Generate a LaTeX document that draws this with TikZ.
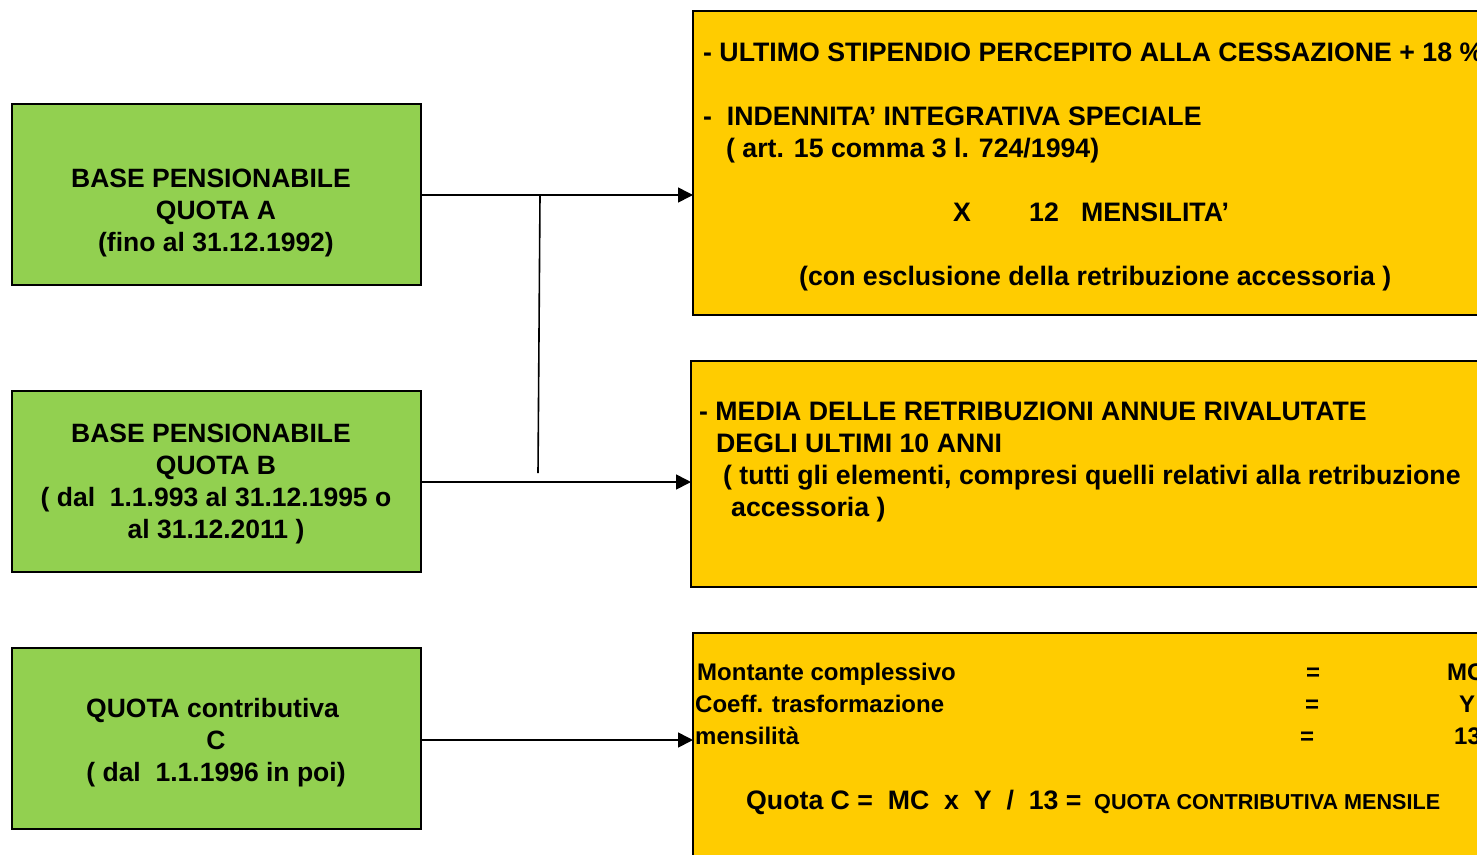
\documentclass[tikz,border=0pt]{standalone}
\usepackage{fontspec}
\setmainfont{Liberation Sans}
\usetikzlibrary{arrows.meta}
\definecolor{boxgreen}{HTML}{92D050}
\definecolor{boxorange}{HTML}{FFCC00}
\tikzset{
  greenbox/.style={draw=black, line width=1.6pt, fill=boxgreen},
  orangebox/.style={draw=black, line width=1.6pt, fill=boxorange},
  gtext/.style={align=center, font=\fontsize{26.5}{32}\selectfont\bfseries, inner sep=0pt},
  ltext/.style={anchor=base west, font=\fontsize{26.7}{32}\selectfont\bfseries, inner sep=0pt},
  mtext/.style={anchor=base west, font=\fontsize{24}{32}\selectfont\bfseries, inner sep=0pt},
  conn/.style={draw=black, line width=1.6pt},
  arr/.style={conn, -{Triangle[length=15pt,width=15pt]}},
}
\begin{document}
\begin{tikzpicture}[x=1pt,y=-1pt]
\useasboundingbox (0,0) rectangle (1477,854);
\clip (0,0) rectangle (1477,854);
% green boxes
\draw[greenbox] (12,104) rectangle (421,285);
\node[gtext] (A) at (216,213) {BASE PENSIONABILE\hspace*{10pt}\\QUOTA A\\(fino al 31.12.1992)};
\coordinate (Ae) at (421,195);
\draw[greenbox] (12,391) rectangle (421,572);
\node[gtext] (B) at (216,484) {BASE PENSIONABILE\hspace*{10pt}\\QUOTA B\\( dal\ \ 1.1.993 al 31.12.1995 o\\al 31.12.2011 )};
\coordinate (Be) at (421,482);
\draw[greenbox] (12,648) rectangle (421,829);
\node[gtext] (C) at (216,743) {QUOTA contributiva\hspace*{7pt}\\C\\( dal\ \ 1.1.1996 in poi)};
\coordinate (Ce) at (421,740);
% orange boxes
\draw[orangebox] (693,11) rectangle (1500,315);
\coordinate (O1) at (693,195);
\draw[orangebox] (691,361) rectangle (1500,587);
\coordinate (O2) at (691,482);
\draw[orangebox] (693,633) rectangle (1500,880);
\coordinate (O3) at (693,740);
% box 1 text
\node[ltext] (t11) at (703,61) {- ULTIMO STIPENDIO PERCEPITO ALLA CESSAZIONE + 18 \%};
\node[ltext] (t12) at (703,125) {-\ \ INDENNITA’ INTEGRATIVA SPECIALE};
\node[ltext] (t13) at (726,157) {( art. 15 comma 3 l. 724/1994)};
\node[ltext] (t14) at (953,221) {X};
\node[ltext] (t15) at (1029,221) {12\ \ \ MENSILITA’};
\node[ltext] (t16) at (799,285) {(con esclusione della retribuzione accessoria )};
% box 2 text
\node[ltext] (t21) at (699,420) {- MEDIA DELLE RETRIBUZIONI ANNUE RIVALUTATE};
\node[ltext] (t22) at (716,452) {DEGLI ULTIMI 10 ANNI};
\node[ltext] (t23) at (723,484) {( tutti gli elementi, compresi quelli relativi alla retribuzione};
\node[ltext] (t24) at (731,516) {accessoria )};
% box 3 text
\node[mtext] (t31) at (697,680) {Montante complessivo};
\node[mtext] (t32) at (695,712) {Coeff. trasformazione};
\node[mtext] (t33) at (695,744) {mensilità};
\node[mtext] (e1) at (1306,680) {=};
\node[mtext] (e2) at (1305,712) {=};
\node[mtext] (e3) at (1300,744) {=};
\node[mtext] (v1) at (1447,680) {MC};
\node[mtext] (v2) at (1459,712) {Y};
\node[mtext] (v3) at (1454,744) {13};
\node[ltext] (q1) at (746,809) {Quota C =\ \ MC\ \ x\ \ Y\ \ /\ \ 13 =};
\node[anchor=base west, font=\fontsize{21.6}{26}\selectfont\bfseries, inner sep=0pt] (q2) at (1094,809) {QUOTA CONTRIBUTIVA MENSILE};
% connectors
\draw[arr] (Ae) -- (O1);
\draw[arr] (Be) -- (O2);
\draw[arr] (Ce) -- (O3);
\coordinate (v top) at (540,195);
\coordinate (v bot) at (538,473);
\draw[conn] (v top) -- (v bot);
\end{tikzpicture}
\end{document}
